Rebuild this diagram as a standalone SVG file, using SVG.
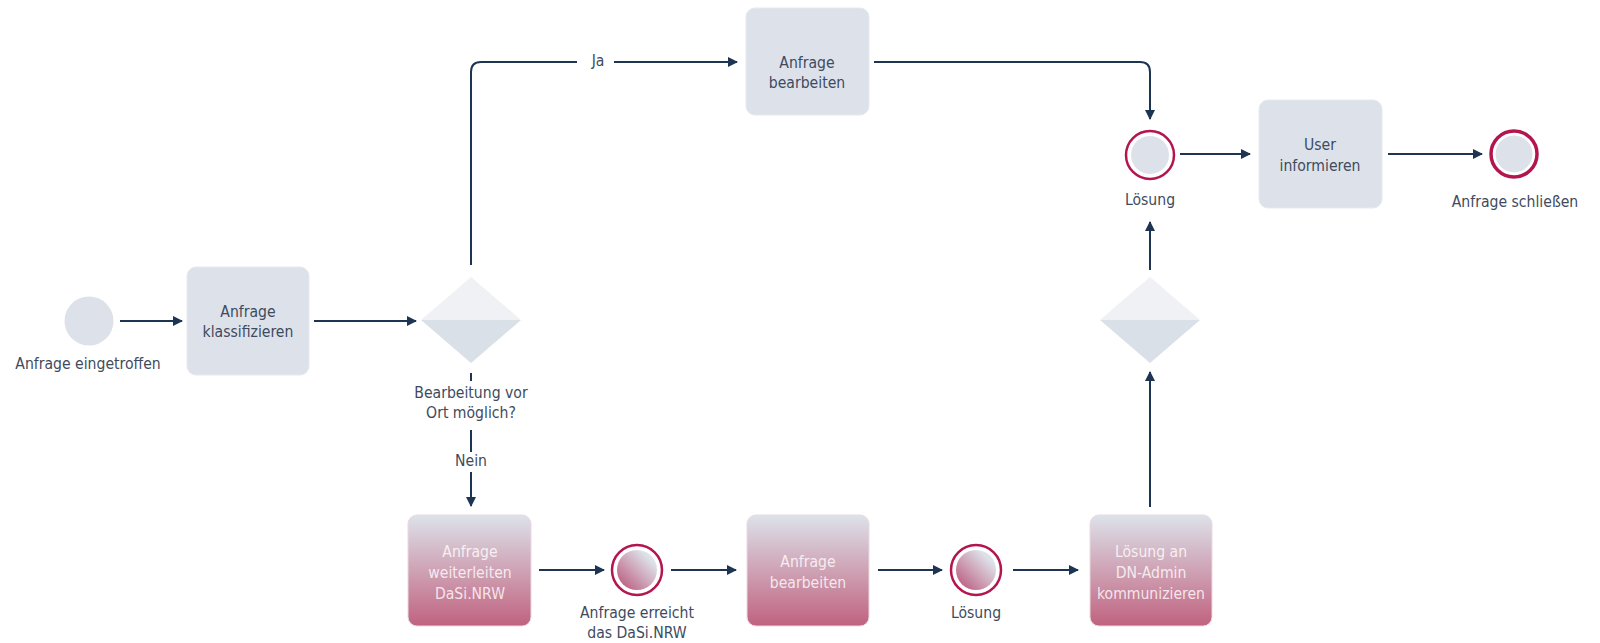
<svg xmlns="http://www.w3.org/2000/svg" width="1600" height="643" viewBox="0 0 1600 643">
<defs>
<style>
.t{font-family:"DejaVu Sans Condensed","DejaVu Sans",sans-serif;font-size:15.6px;fill:#3e4b5e;text-anchor:middle}
.w{fill:#ffffff;fill-opacity:0.8}
.box{fill:#dde2ea;stroke:#e6e9ef;stroke-width:1}
.pbox{fill:url(#pg);stroke:#ead9e0;stroke-width:1}
.c{fill:none;stroke:#1d3452;stroke-width:2}
.ring{fill:#ffffff;stroke:#b3164f;stroke-width:2.5}
.ringE{fill:#ffffff;stroke:#b3164f;stroke-width:3.5}
</style>
<linearGradient id="pg" x1="0" y1="0" x2="0" y2="1">
<stop offset="0" stop-color="#dde2ea"/>
<stop offset="1" stop-color="#c0627f"/>
</linearGradient>
<linearGradient id="cg" x1="1" y1="0" x2="0" y2="1">
<stop offset="0.2" stop-color="#dde2ea"/>
<stop offset="1" stop-color="#b84e74"/>
</linearGradient>
<marker id="ah" viewBox="0 0 10 10" refX="9" refY="5" markerWidth="5" markerHeight="5" orient="auto" markerUnits="strokeWidth">
<path d="M0,0 L10,5 L0,10 z" fill="#1d3452"/>
</marker>
</defs>
<rect width="1600" height="643" fill="#ffffff"/>

<g id="connectors">
<path class="c" marker-end="url(#ah)" d="M120,321 H182"/>
<path class="c" marker-end="url(#ah)" d="M314,321 H416"/>
<path class="c" d="M471,265 V72 Q471,62 481,62 H577"/>
<path class="c" marker-end="url(#ah)" d="M614,62 H737"/>
<path class="c" marker-end="url(#ah)" d="M874,62 H1140 Q1150,62 1150,72 V119"/>
<path class="c" marker-end="url(#ah)" d="M1180,154 H1250"/>
<path class="c" marker-end="url(#ah)" d="M1388,154 H1482"/>
<path class="c" d="M471,373 V381"/>
<path class="c" d="M471,430 V452"/>
<path class="c" marker-end="url(#ah)" d="M471,472 V506"/>
<path class="c" marker-end="url(#ah)" d="M539,570 H604"/>
<path class="c" marker-end="url(#ah)" d="M671,570 H736"/>
<path class="c" marker-end="url(#ah)" d="M878,570 H942"/>
<path class="c" marker-end="url(#ah)" d="M1013,570 H1078"/>
<path class="c" marker-end="url(#ah)" d="M1150,507 V372"/>
<path class="c" marker-end="url(#ah)" d="M1150,270 V222"/>
<text class="t" x="598" y="66">Ja</text>
<text class="t" x="471" y="398">Bearbeitung vor</text>
<text class="t" x="471" y="418">Ort möglich?</text>
<text class="t" x="471" y="466">Nein</text>
</g>

<g id="start">
<circle cx="89" cy="321" r="24.5" fill="#dde2ea"/>
<text class="t" x="88" y="369">Anfrage eingetroffen</text>
</g>

<g id="klassifizieren">
<rect class="box" x="187" y="267" width="122" height="108" rx="9"/>
<text class="t" x="248" y="317">Anfrage</text>
<text class="t" x="248" y="337">klassifizieren</text>
</g>

<g id="gateway1">
<path d="M421,320 L471,277 L521,320 z" fill="#f0f1f4"/>
<path d="M421,320 L521,320 L471,363 z" fill="#dae0e8"/>
</g>

<g id="bearbeiten-top">
<rect class="box" x="746" y="8" width="123" height="107" rx="9"/>
<text class="t" x="807" y="68">Anfrage</text>
<text class="t" x="807" y="88">bearbeiten</text>
</g>

<g id="loesung-top">
<circle class="ring" cx="1150" cy="155" r="24"/>
<circle cx="1150" cy="155" r="19" fill="#dde2ea"/>
<text class="t" x="1150" y="205">Lösung</text>
</g>

<g id="user-informieren">
<rect class="box" x="1259" y="100" width="123" height="108" rx="9"/>
<text class="t" x="1320" y="150">User</text>
<text class="t" x="1320" y="171">informieren</text>
</g>

<g id="end">
<circle class="ringE" cx="1514" cy="154" r="23"/>
<circle cx="1514" cy="154" r="18.5" fill="#dde2ea"/>
<text class="t" x="1515" y="207">Anfrage schließen</text>
</g>

<g id="gateway2">
<path d="M1100,320 L1150,277 L1200,320 z" fill="#f0f1f4"/>
<path d="M1100,320 L1200,320 L1150,363 z" fill="#dae0e8"/>
</g>

<g id="weiterleiten">
<rect class="pbox" x="408" y="515" width="123" height="111" rx="9"/>
<text class="t w" x="470" y="557">Anfrage</text>
<text class="t w" x="470" y="578">weiterleiten</text>
<text class="t w" x="470" y="599">DaSi.NRW</text>
</g>

<g id="erreicht">
<circle class="ring" cx="637" cy="570" r="25"/>
<circle cx="637" cy="570" r="20" fill="url(#cg)"/>
<text class="t" x="637" y="618">Anfrage erreicht</text>
<text class="t" x="637" y="638">das DaSi.NRW</text>
</g>

<g id="bearbeiten-bottom">
<rect class="pbox" x="747" y="515" width="122" height="111" rx="9"/>
<text class="t w" x="808" y="567">Anfrage</text>
<text class="t w" x="808" y="588">bearbeiten</text>
</g>

<g id="loesung-bottom">
<circle class="ring" cx="976" cy="570" r="25"/>
<circle cx="976" cy="570" r="20" fill="url(#cg)"/>
<text class="t" x="976" y="618">Lösung</text>
</g>

<g id="kommunizieren">
<rect class="pbox" x="1090" y="515" width="122" height="111" rx="9"/>
<text class="t w" x="1151" y="557">Lösung an</text>
<text class="t w" x="1151" y="578">DN-Admin</text>
<text class="t w" x="1151" y="599">kommunizieren</text>
</g>
</svg>
